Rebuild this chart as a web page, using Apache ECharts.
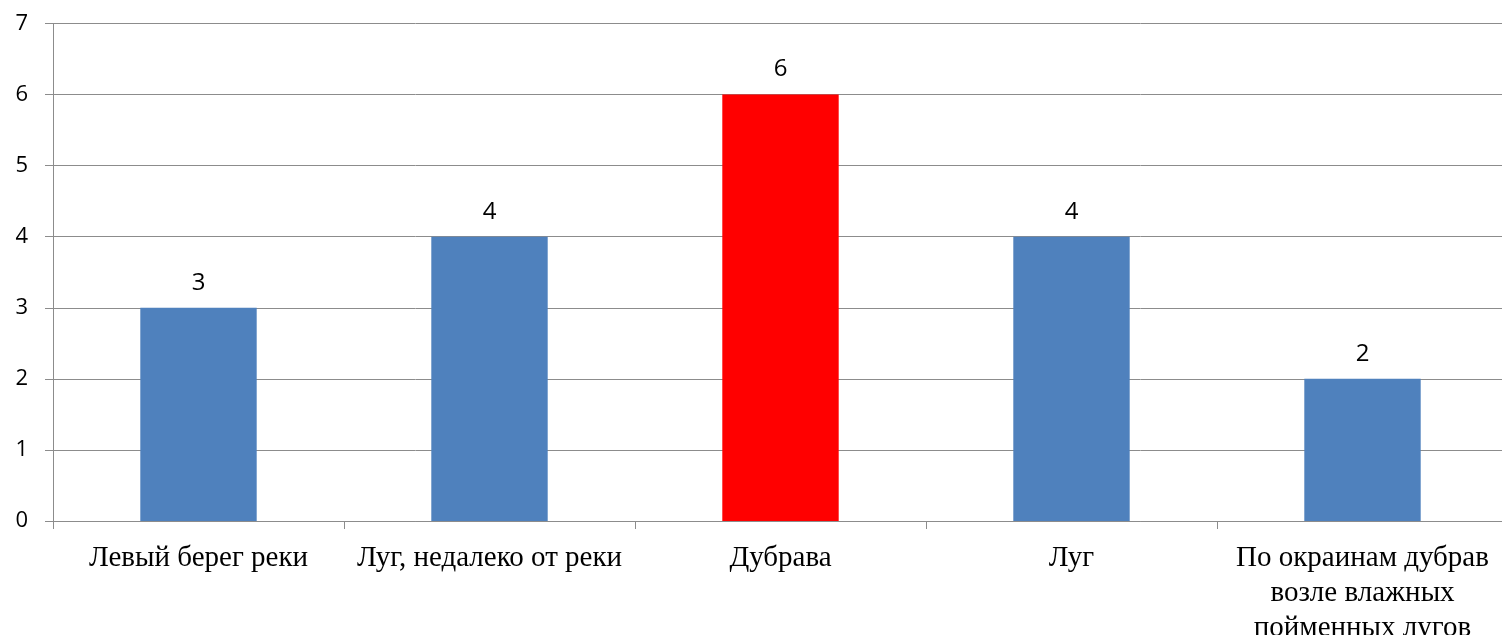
<!DOCTYPE html>
<html>
<head>
<meta charset="utf-8">
<style>
  html, body { margin: 0; padding: 0; background: #fff; }
  #chart { width: 1502px; height: 635px; }
</style>
<script src="https://cdn.jsdelivr.net/npm/echarts@6/dist/echarts.min.js"></script>
</head>
<body>
<div id="chart"></div>
<script>
// Места обитания и число находок
const categories = [
  'Левый берег реки',
  'Луг, недалеко от реки',
  'Дубрава',
  'Луг',
  'По окраинам дубрав возле влажных пойменных лугов'
];
const values = [3, 4, 6, 4, 2];
const barColors = ['#4F81BD', '#4F81BD', '#FF0000', '#4F81BD', '#4F81BD'];
const yTicks = [0, 1, 2, 3, 4, 5, 6, 7];

const CAT_FONT_SIZE = 29;
const CAT_FONT = CAT_FONT_SIZE + 'px "Liberation Serif"';
const CAT_WRAP = 285;

// greedy word wrap of a category name to a pixel width
const measureCtx = document.createElement('canvas').getContext('2d');
function wrapWords(text) {
  measureCtx.font = CAT_FONT;
  const words = text.split(' ');
  const lines = [];
  let cur = '';
  for (const w of words) {
    const trial = cur ? cur + ' ' + w : w;
    if (cur && measureCtx.measureText(trial).width > CAT_WRAP) {
      lines.push(cur);
      cur = w;
    } else {
      cur = trial;
    }
  }
  if (cur) lines.push(cur);
  return lines.join('\n');
}

const chart = echarts.init(document.getElementById('chart'), null, { renderer: 'canvas' });

chart.setOption({
  animation: false,
  backgroundColor: '#ffffff',
  grid: {
    left: 53, right: -6, top: 23.5, bottom: 114,
    containLabel: false,
    outerBoundsMode: 'none'
  },
  xAxis: {
    type: 'category',
    data: categories,
    boundaryGap: true,
    axisLine: { lineStyle: { color: '#8c8c8c', width: 1 } },
    axisTick: { show: true, length: 8, lineStyle: { color: '#8c8c8c' } },
    axisLabel: {
      interval: 0,
      hideOverlap: false,
      margin: 20,
      color: '#000000',
      fontFamily: 'Liberation Serif',
      fontSize: CAT_FONT_SIZE,
      lineHeight: 35,
      overflow: 'none',
      align: 'center',
      formatter: wrapWords
    },
    splitLine: { show: false }
  },
  yAxis: {
    type: 'value',
    min: yTicks[0],
    max: yTicks[yTicks.length - 1],
    interval: 1,
    axisLine: { show: true, lineStyle: { color: '#8c8c8c', width: 1 } },
    axisTick: { show: true, length: 8, lineStyle: { color: '#8c8c8c' } },
    axisLabel: {
      margin: 25,
      color: '#000000',
      fontFamily: 'Open Sans',
      fontSize: 22
    },
    splitLine: { show: true, lineStyle: { color: '#8c8c8c', width: 1 } }
  },
  series: [{
    type: 'bar',
    data: values.map((v, i) => ({ value: v, itemStyle: { color: barColors[i] } })),
    barWidth: '40%',
    label: {
      show: true,
      position: 'top',
      distance: 13,
      color: '#000000',
      fontFamily: 'Open Sans',
      fontSize: 24
    }
  }]
});
</script>
</body>
</html>
